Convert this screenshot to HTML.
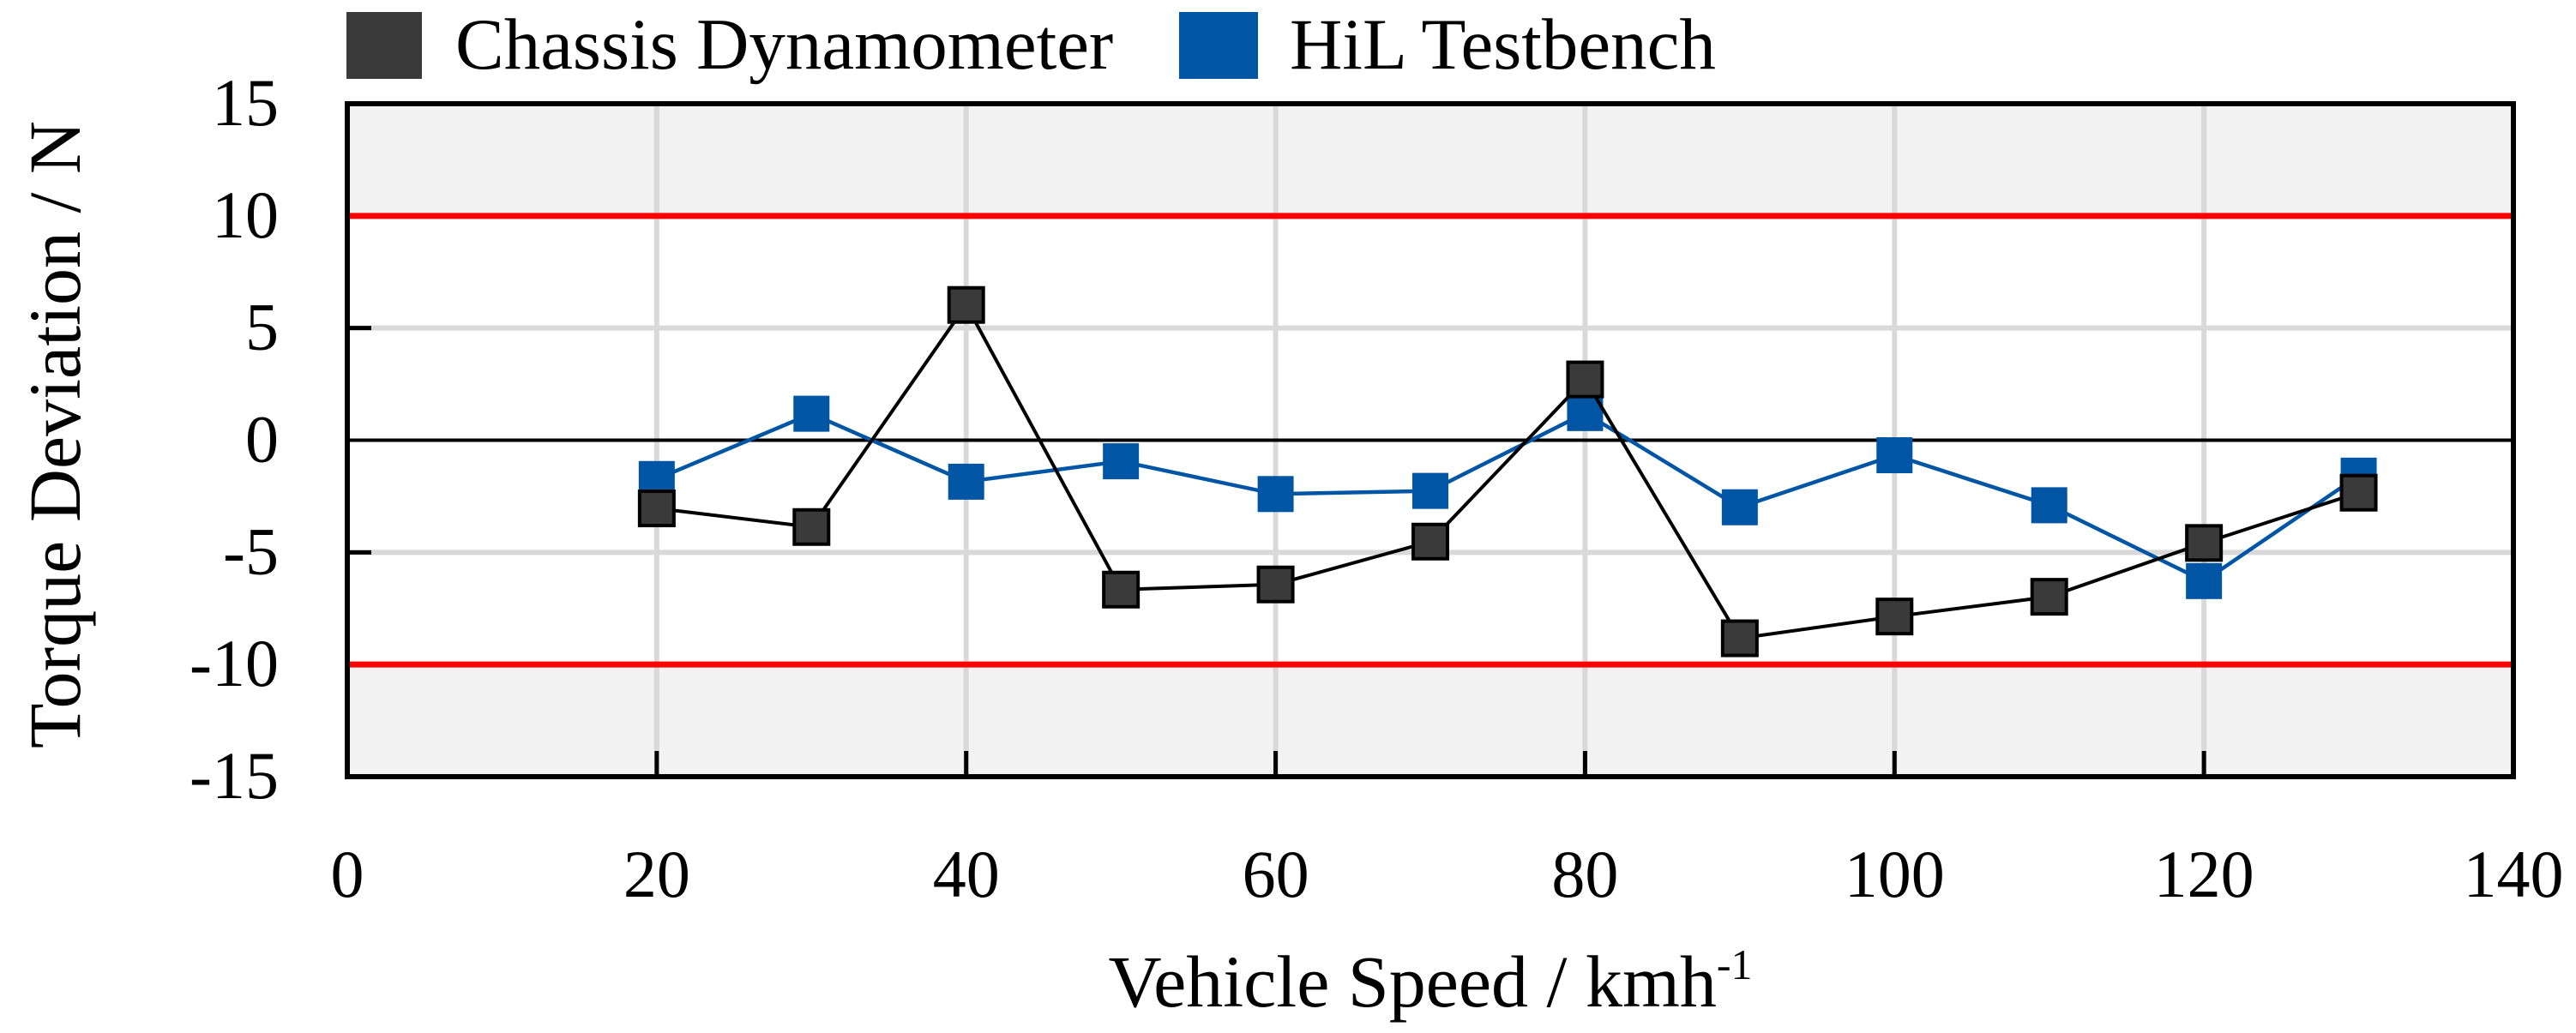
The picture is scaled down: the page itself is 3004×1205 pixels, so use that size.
<!DOCTYPE html>
<html><head><meta charset="utf-8"><style>
html,body{margin:0;padding:0;background:#fff;}
svg{display:block;font-family:"Liberation Serif",serif;}
</style></head><body>
<svg width="3004" height="1205" viewBox="0 0 3004 1205">
<g id="plot"></g>
</svg>
<script>
const xCats=[20,30,40,50,60,70,80,90,100,110,120,130];
const chassisVals=[-3.04,-3.87,6.03,-6.66,-6.43,-4.52,2.71,-8.83,-7.86,-6.98,-4.58,-2.34];
const hilVals=[-1.73,1.18,-1.85,-0.94,-2.4,-2.26,1.21,-2.99,-0.67,-2.9,-6.28,-1.58];
const xTicks=[0,20,40,60,80,100,120,140];
const yTicks=[15,10,5,0,-5,-10,-15];
const limitVals=[10,-10];
const NS="http://www.w3.org/2000/svg";
const L=405,R=2931,T=121,B=906;
const xS=v=>L+(v-0)/(140-0)*(R-L);
const yS=v=>T+(15-v)/(30)*(B-T);
const g=document.getElementById('plot');
function mk(tag,attrs,parent){const e=document.createElementNS(NS,tag);for(const k in attrs)e.setAttribute(k,attrs[k]);(parent||g).appendChild(e);return e;}
let e;
e=mk('rect',{x:L,y:T,width:R-L,height:B-T,fill:'#f2f2f2'});


e=mk('rect',{x:L,y:yS(10),width:R-L,height:yS(-10)-yS(10),fill:'#ffffff'});


[20,40,60,80,100,120].forEach(v=>{e=mk('line',{x1:xS(v),x2:xS(v),y1:T,y2:B,stroke:'#d9d9d9','stroke-width':6});

});
[5,-5].forEach(v=>{e=mk('line',{x1:L,x2:R,y1:yS(v),y2:yS(v),stroke:'#d9d9d9','stroke-width':6});

});
limitVals.forEach(v=>{e=mk('line',{x1:L,x2:R,y1:yS(v),y2:yS(v),stroke:'#ff0000','stroke-width':7});

});
e=mk('line',{x1:L,x2:R,y1:yS(0),y2:yS(0),stroke:'#000','stroke-width':4});


[5,-5].forEach(v=>{e=mk('line',{x1:L,x2:L+28,y1:yS(v),y2:yS(v),stroke:'#000','stroke-width':5});

});
[20,40,60,80,100,120].forEach(v=>{e=mk('line',{x1:xS(v),x2:xS(v),y1:B,y2:B-30,stroke:'#000','stroke-width':5});

});
e=mk('rect',{x:L,y:T,width:R-L,height:B-T,fill:'none',stroke:'#000','stroke-width':6});


function series(vals,color,fill,lw,name){
  const pts=xCats.map((x,i)=>xS(x)+','+yS(vals[i])).join(' ');
  e=mk('polyline',{points:pts,fill:'none',stroke:color,'stroke-width':lw});
  
  
  xCats.forEach((x,i)=>{
    e=mk('rect',{x:xS(x)-20,y:yS(vals[i])-20,width:40,height:40,fill:fill,stroke:name==='chassis'?'#000':fill,'stroke-width':name==='chassis'?4:2});
    
    
  });
}
series(hilVals,'#0055a5','#0055a5',4.5,'hil');
series(chassisVals,'#000','#3a3a3a',4,'chassis');
yTicks.forEach(v=>{e=mk('text',{x:325,y:yS(v)+25,'text-anchor':'end','font-size':78,fill:'#000'});e.textContent=v;

});
xTicks.forEach(v=>{e=mk('text',{x:xS(v),y:1046,'text-anchor':'middle','font-size':78,fill:'#000'});e.textContent=v;

});
e=mk('text',{x:1668,y:1174,'text-anchor':'middle','font-size':86,fill:'#000'});
e.innerHTML='Vehicle Speed / kmh<tspan dy="-32" font-size="50">-1</tspan>';


e=mk('text',{x:0,y:0,'text-anchor':'middle','font-size':86,fill:'#000',transform:'translate(93,507) rotate(-90)'});
e.textContent='Torque Deviation / N';


e=mk('rect',{x:404,y:14,width:88,height:78,fill:'#3a3a3a'});


e=mk('text',{x:531,y:80,'font-size':85,fill:'#000'});e.textContent='Chassis Dynamometer';


e=mk('rect',{x:1375,y:14,width:92,height:78,fill:'#0055a5'});


e=mk('text',{x:1504,y:80,'font-size':85,fill:'#000'});e.textContent='HiL Testbench';


</script>
</body></html>
